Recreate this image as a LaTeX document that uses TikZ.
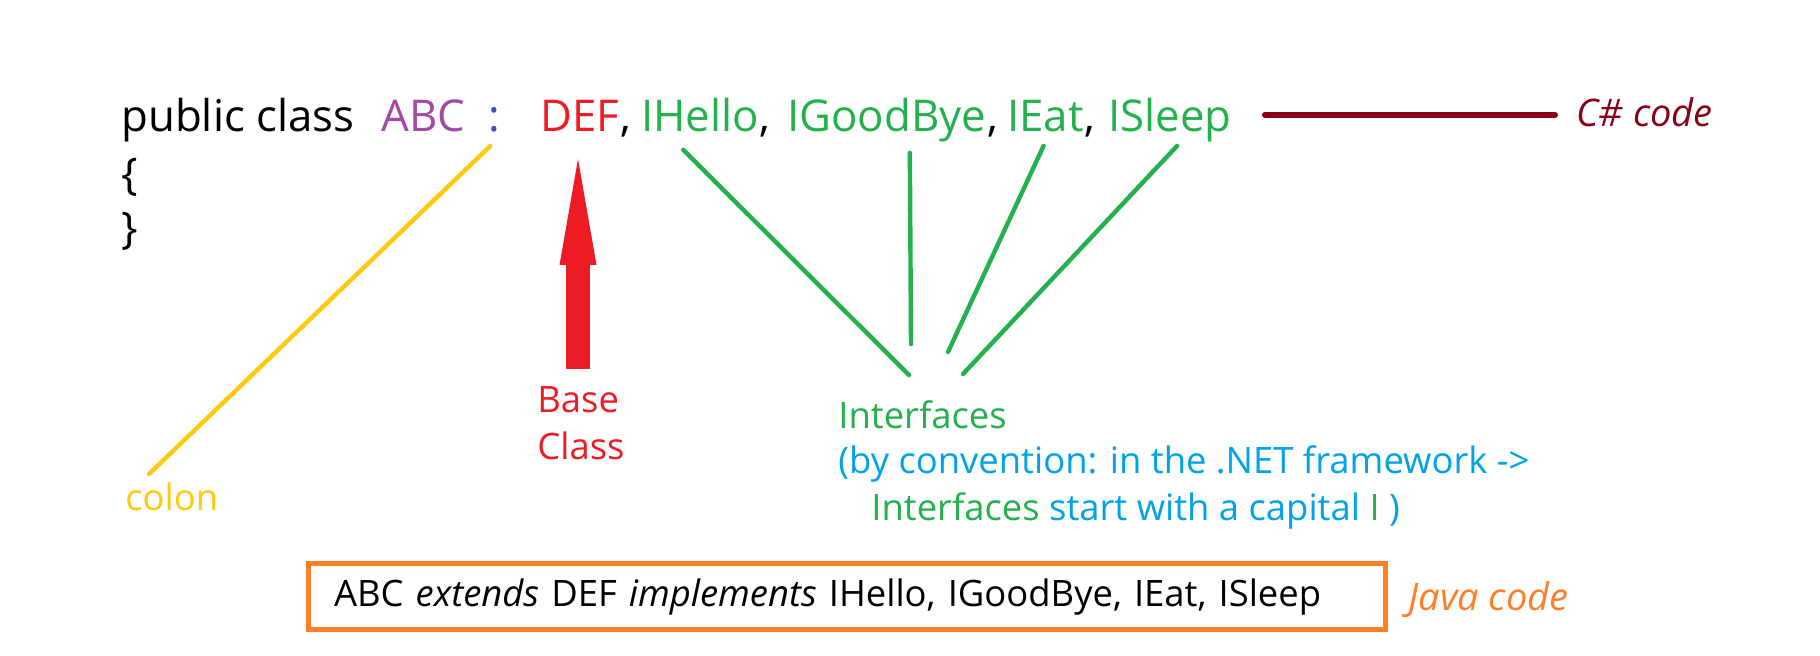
\documentclass[tikz,border=0pt]{standalone}
\usepackage{fontspec}
\setmainfont{Open Sans}
\usetikzlibrary{arrows.meta,positioning}
\definecolor{pgreen}{RGB}{34,177,76}
\definecolor{pred}{RGB}{237,28,36}
\definecolor{ppurple}{RGB}{163,73,164}
\definecolor{pindigo}{RGB}{63,72,204}
\definecolor{pdarkred}{RGB}{136,0,21}
\definecolor{pgold}{RGB}{255,201,14}
\definecolor{porange}{RGB}{255,127,39}
\definecolor{pblue}{RGB}{0,162,232}
\newcommand{\codesize}{\fontsize{21.9pt}{26pt}\selectfont}
\newcommand{\notesize}{\fontsize{18.2pt}{22pt}\selectfont}

\begin{document}
\begin{tikzpicture}[x=0.5pt, y=-0.5pt,
    txt/.style={inner sep=0pt, anchor=base west, font=\codesize},
    note/.style={inner sep=0pt, anchor=base west, font=\notesize},
    tag/.style={note, font=\fontsize{19pt}{22pt}\selectfont\itshape},
    ln/.style={line width=2.2pt, line cap=round},
    bigarrow/.style={line width=12pt, -{Triangle[length=53pt, width=18.5pt, line width=0pt]}, draw=pred, fill=pred}]
  \useasboundingbox (0,0) rectangle (1820,656);
  % C# declaration
  \node[txt] (pub) at (121,132) {public class};
  \node[txt, text=ppurple] (abc) at (381,132) {ABC};
  \node[txt, text=pindigo] (colon) at (488,132) {:};
  \node[txt, text=pred] (def) at (540,132) {DEF};
  \node[txt] (cm1) at (def.base east) {,};
  \node[txt, text=pgreen] (ihello) at (641,132) {IHello};
  \node[txt] (cm2) at (ihello.base east) {,};
  \node[txt, text=pgreen] (igoodbye) at (787,132) {IGoodBye};
  \node[txt] (cm3) at (igoodbye.base east) {,};
  \node[txt, text=pgreen] (ieat) at (1007,132) {IEat};
  \node[txt] (cm4) at (ieat.base east) {,};
  \node[txt, text=pgreen] (isleep) at (1108,132) {ISleep};
  \node[txt] (open) at (121,190) {\{};
  \node[txt] (close) at (121,244) {\}};
  \node[tag, text=pdarkred] (csharp) at (1576,127) {C\# code};
  \coordinate (csl) at (1265,115);
  \draw[line width=3pt, line cap=round, pdarkred] (csl) -- ([xshift=-10.5pt]csl -| csharp.west);
  % colon
  \node[note, text=pgold] (colonlbl) at (125,511) {colon};
  \coordinate (ye) at (149,474);
  \draw[ln, pgold] ([shift={(-2pt,-6.5pt)}]colon.south) -- (ye);
  % base class
  \node[note, text=pred] (baselbl) at (537,413) {Base};
  \node[note, text=pred] (classlbl) at (537,460) {Class};
  \draw[bigarrow] (578,369) -- (578,159);
  % interfaces
  \node[note, text=pgreen] (ifc1) at (838,429) {Interfaces};
  \node[note, text=pblue] (ifc2) at (838,474) {(by convention: in the .NET framework ->};
  \node[note, text=pblue] (ifc3) at (871,521) {\textcolor{pgreen}{Interfaces} start with a capital \textcolor{pgreen}{I} )};
  \coordinate (i1) at (909,375);
  \coordinate (i2) at (911,344);
  \coordinate (i3) at (948,352);
  \coordinate (i4) at (963,374);
  \draw[ln, pgreen] ([shift={(-8.5pt,-8.5pt)}]ihello.south) -- (i1);
  \draw[ln, pgreen] ([shift={(11.5pt,-5pt)}]igoodbye.south) -- (i2);
  \draw[ln, pgreen] ([shift={(-1pt,-6.5pt)}]ieat.south) -- (i3);
  \draw[ln, pgreen] ([shift={(3.5pt,-1.5pt)}]isleep.south) -- (i4);
  % Java
  \node[draw=porange, line width=2.5pt, inner xsep=13pt, inner ysep=0pt, minimum height=33pt,
    text width=512.5pt, align=left, font=\notesize] (java) at (846.5,597)
    {ABC \emph{extends} DEF \emph{implements} IHello, IGoodBye, IEat, ISleep};
  \node[tag, text=porange] (javalbl) at (1408,611) {Java code};
\end{tikzpicture}
\end{document}
